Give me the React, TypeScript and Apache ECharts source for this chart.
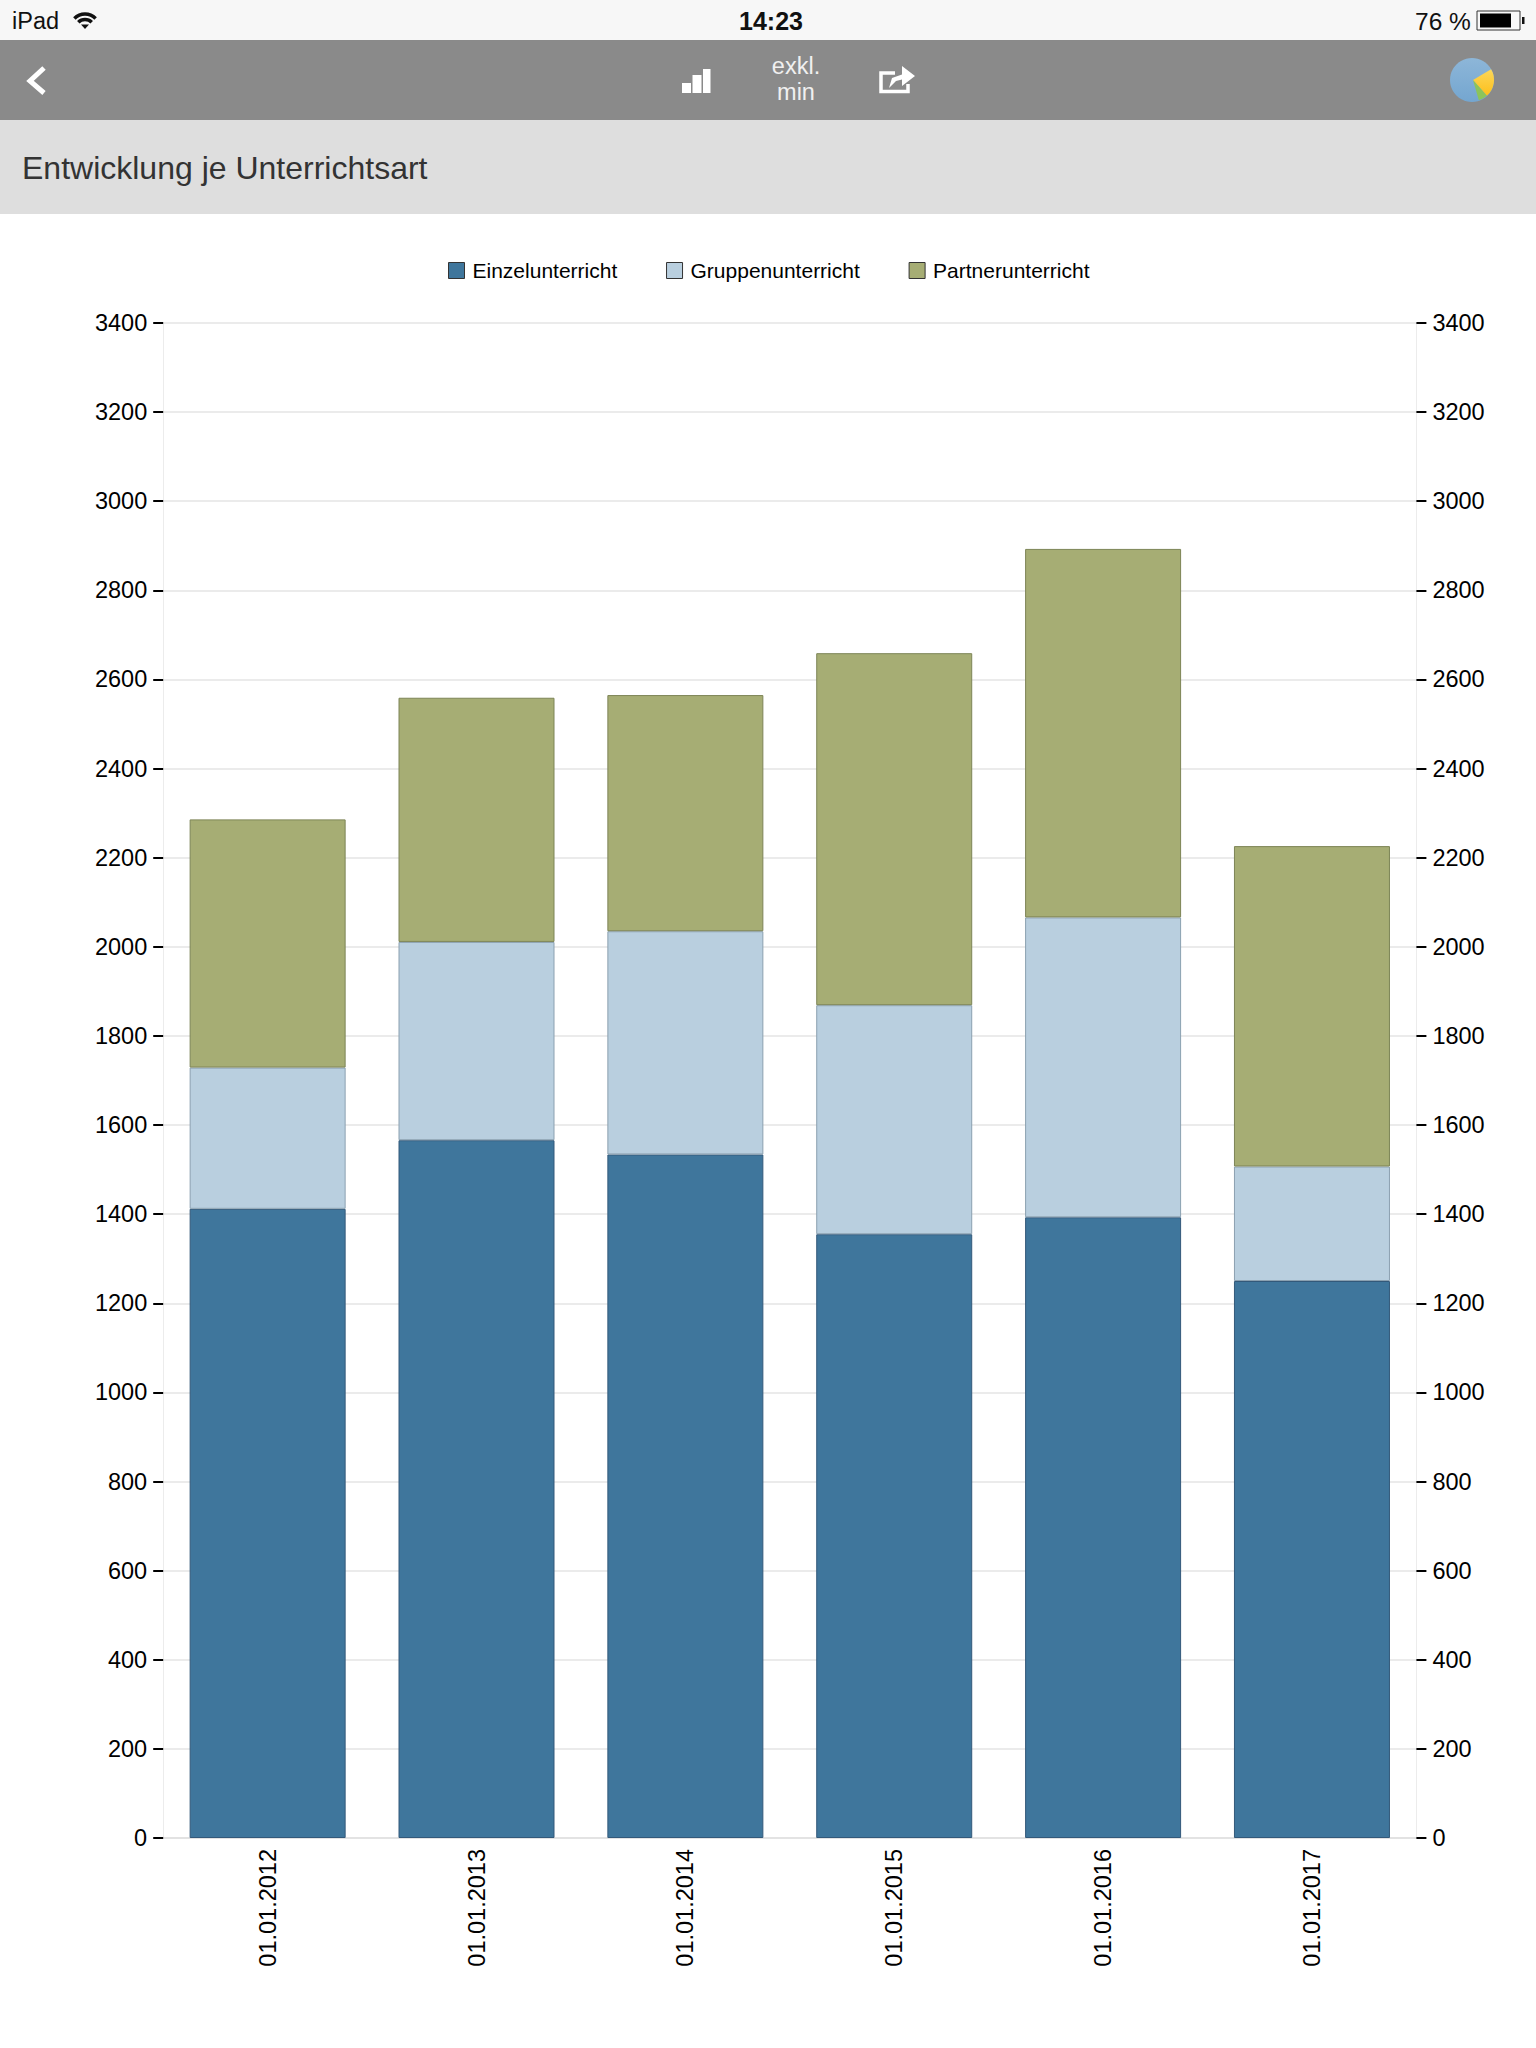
import React, { useEffect, useRef } from "react";
import * as echarts from "echarts";

const categories = ["01.01.2012", "01.01.2013", "01.01.2014", "01.01.2015", "01.01.2016", "01.01.2017"];
const einzelunterricht = [1412, 1566, 1534, 1355, 1393, 1250];
const gruppenunterricht = [317, 445, 501, 514, 673, 257];
const partnerunterricht = [557, 548, 530, 790, 827, 719];

const FONT = "'Liberation Sans', Arial, sans-serif";
const PI = Math.PI;

function text(x: number, y: number, t: string, size: number, fill: string, align = "left", fontWeight: any = "normal") {
  return {
    type: "text",
    x,
    y,
    silent: true,
    style: { text: t, fontSize: size, fontFamily: FONT, fill, align, verticalAlign: "middle", fontWeight },
  };
}
function rect(x: number, y: number, width: number, height: number, style: any) {
  return { type: "rect", silent: true, shape: { x, y, width, height }, style };
}

const headerGraphics = [
  rect(0, 0, 1536, 40, { fill: "#f7f7f7" }),
  rect(0, 40, 1536, 80, { fill: "#8a8a8a" }),
  rect(0, 120, 1536, 94, { fill: "#dedede" }),
  text(12, 21, "iPad", 23.5, "#111"),
  { type: "arc", silent: true, shape: { cx: 85, cy: 29, r: 15, startAngle: -0.75 * PI, endAngle: -0.25 * PI }, style: { stroke: "#111", lineWidth: 3.5, fill: "none" } },
  { type: "arc", silent: true, shape: { cx: 85, cy: 29, r: 9.5, startAngle: -0.75 * PI, endAngle: -0.25 * PI }, style: { stroke: "#111", lineWidth: 3.5, fill: "none" } },
  { type: "polygon", silent: true, shape: { points: [[81, 24.5], [89, 24.5], [85, 29]] }, style: { fill: "#111" } },
  text(771, 21, "14:23", 25, "#111", "center", "bold"),
  text(1415, 21, "76 %", 24.5, "#111"),
  rect(1477, 11, 43, 19, { fill: "none", stroke: "#333", lineWidth: 1 }),
  rect(1480, 13.5, 31, 14, { fill: "#000" }),
  rect(1522, 17, 2.5, 7, { fill: "#111" }),
  { type: "polyline", silent: true, shape: { points: [[44, 68], [30, 81], [44, 93]] }, style: { stroke: "#fff", lineWidth: 5, fill: "none" } },
  rect(682, 83, 9, 10, { fill: "#fff" }),
  rect(692.5, 75, 9, 18, { fill: "#fff" }),
  rect(703, 69, 7.5, 24, { fill: "#fff" }),
  text(796, 66, "exkl.", 23.5, "#f0f0f0", "center"),
  text(796, 92, "min", 23.5, "#f0f0f0", "center"),
  { type: "polyline", silent: true, shape: { points: [[895, 73], [881, 73], [881, 91.5], [908, 91.5], [908, 84]] }, style: { stroke: "#fff", lineWidth: 3.5, fill: "none" } },
  { type: "polygon", silent: true, shape: { points: [[889, 88], [892, 78], [902, 74.5], [902, 66], [915, 76], [902, 86], [902, 79.5], [896, 81]] }, style: { fill: "#fff" } },
  { type: "circle", silent: true, shape: { cx: 1472, cy: 80, r: 22 }, style: { fill: new echarts.graphic.LinearGradient(0, 0, 0, 1, [{ offset: 0, color: "#8db6d8" }, { offset: 1, color: "#74a6d0" }]) } },
  { type: "sector", silent: true, shape: { cx: 1473, cy: 80, r0: 0, r: 21, startAngle: -0.17 * PI, endAngle: 0.27 * PI }, style: { fill: new echarts.graphic.LinearGradient(0, 0, 0, 1, [{ offset: 0, color: "#fbd75a" }, { offset: 1, color: "#fdbf1a" }]) } },
  { type: "sector", silent: true, shape: { cx: 1473, cy: 80, r0: 0, r: 21, startAngle: 0.27 * PI, endAngle: 0.41 * PI }, style: { fill: "#8cc45a" } },
  text(22, 168, "Entwicklung je Unterrichtsart", 32, "#333"),
];

export default function App() {
  const ref = useRef<HTMLDivElement>(null);
  useEffect(() => {
    const chart = echarts.init(ref.current!, undefined, { renderer: "svg" });
    const makeY = (position: "left" | "right") => ({
      type: "value",
      position,
      min: 0,
      max: 3400,
      interval: 200,
      axisLine: { show: true, lineStyle: { color: "#ececec", width: 1 } },
      axisTick: { show: true, length: 10, lineStyle: { color: "#000", width: 2 } },
      axisLabel: { color: "#000", fontSize: 23.5, fontFamily: FONT, margin: 16, formatter: (v: number) => String(v) },
      splitLine: { show: position === "left", lineStyle: { color: "#e4e4e4", width: 1.5 } },
    });
    const makeSeries = (name: string, data: number[], color: string, border: string) => ({
      name,
      type: "bar",
      stack: "total",
      yAxisIndex: 0,
      barWidth: 156,
      data,
      itemStyle: { color, borderColor: border, borderWidth: 1 },
    });
    chart.setOption({
      animation: false,
      backgroundColor: "#ffffff",
      textStyle: { fontFamily: FONT },
      grid: { left: 163.2, top: 323, width: 1253.2, height: 1515 },
      legend: {
        left: 448,
        top: 260,
        itemWidth: 16,
        itemHeight: 16,
        itemGap: 48.8,
        icon: "rect",
        padding: 0,
        selectedMode: false,
        textStyle: { color: "#000", fontSize: 21, fontFamily: FONT, padding: [0, 0, 0, 3] },
        itemStyle: { borderColor: "#333", borderWidth: 1 },
      },
      xAxis: {
        type: "category",
        data: categories,
        axisLine: { show: true, lineStyle: { color: "#e0e0e0", width: 1.5 } },
        axisTick: { show: false },
        axisLabel: { rotate: 90, color: "#000", fontSize: 23.5, fontFamily: FONT, margin: 11, interval: 0 },
      },
      yAxis: [makeY("left"), makeY("right")],
      series: [
        makeSeries("Einzelunterricht", einzelunterricht, "#3f769c", "#33597a"),
        makeSeries("Gruppenunterricht", gruppenunterricht, "#b9cfdf", "#8ba0b0"),
        makeSeries("Partnerunterricht", partnerunterricht, "#a6ad74", "#7d8456"),
      ],
      graphic: headerGraphics,
    });
    return () => chart.dispose();
  }, []);
  return <div ref={ref} style={{ position: "absolute", left: 0, top: 0, width: 1536, height: 2048 }} />;
}
